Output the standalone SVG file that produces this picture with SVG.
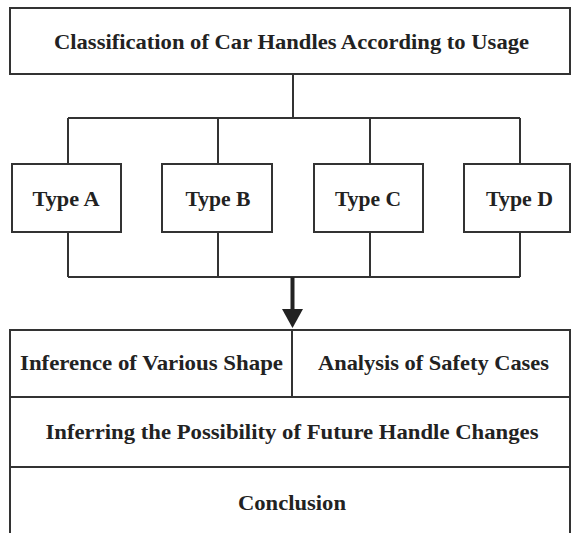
<svg xmlns="http://www.w3.org/2000/svg" width="571" height="533" viewBox="0 0 571 533">
<style>
.box{fill:#fff;stroke:#333;stroke-width:2}
.t{font-family:"Liberation Serif","DejaVu Serif",serif;font-weight:bold;font-size:22px;fill:#222;text-anchor:middle}
.c{fill:none;stroke:#333;stroke-width:2}
</style>
<rect x="0" y="0" width="571" height="533" fill="#fff"/>
<g id="connectors">
<path class="c" d="M293 74V118M68 118H520M68 118V164M218 118V164M370 118V164M520 118V164"/>
<path class="c" d="M68 232V277M218 232V277M370 232V277M520 232V277M68 277H520"/>
<path d="M292.5 277V310" fill="none" stroke="#222" stroke-width="4"/>
<polygon points="282,309 303,309 292.5,328" fill="#222"/>
</g>
<g id="title">
<rect class="box" x="10" y="8" width="560" height="66"/>
<text class="t" x="291.5" y="49" textLength="475" lengthAdjust="spacingAndGlyphs">Classification of Car Handles According to Usage</text>
</g>
<g id="typeA">
<rect class="box" x="12" y="164" width="109" height="68"/>
<text class="t" x="66" y="206" textLength="67" lengthAdjust="spacingAndGlyphs">Type A</text>
</g>
<g id="typeB">
<rect class="box" x="162" y="164" width="110" height="68"/>
<text class="t" x="218" y="206" textLength="65" lengthAdjust="spacingAndGlyphs">Type B</text>
</g>
<g id="typeC">
<rect class="box" x="314" y="164" width="109" height="68"/>
<text class="t" x="368" y="206" textLength="66" lengthAdjust="spacingAndGlyphs">Type C</text>
</g>
<g id="typeD">
<rect class="box" x="464" y="164" width="106" height="68"/>
<text class="t" x="519.5" y="206" textLength="67" lengthAdjust="spacingAndGlyphs">Type D</text>
</g>
<g id="inference">
<rect class="box" x="10" y="330" width="282" height="67"/>
<text class="t" x="151.5" y="370" textLength="263" lengthAdjust="spacingAndGlyphs">Inference of Various Shape</text>
</g>
<g id="analysis">
<rect class="box" x="292" y="330" width="278" height="67"/>
<text class="t" x="433.5" y="370" textLength="231" lengthAdjust="spacingAndGlyphs">Analysis of Safety Cases</text>
</g>
<g id="inferring">
<rect class="box" x="10" y="397" width="560" height="70"/>
<text class="t" x="292" y="439" textLength="493" lengthAdjust="spacingAndGlyphs">Inferring the Possibility of Future Handle Changes</text>
</g>
<g id="conclusion">
<rect class="box" x="10" y="467" width="560" height="80"/>
<text class="t" x="292" y="510" textLength="108" lengthAdjust="spacingAndGlyphs">Conclusion</text>
</g>
</svg>
